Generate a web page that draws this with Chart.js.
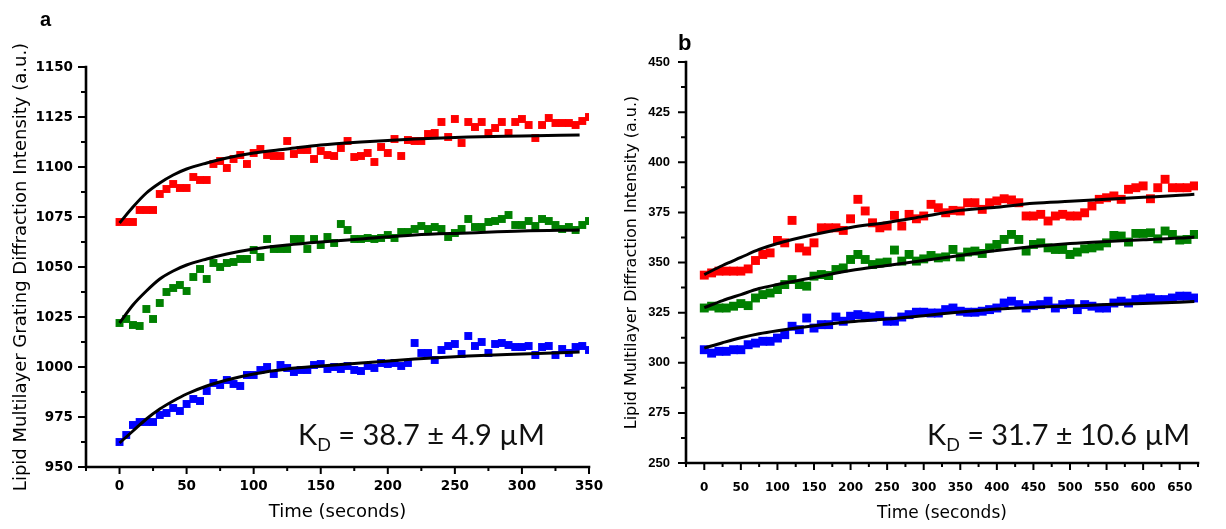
<!DOCTYPE html>
<html>
<head>
<meta charset="utf-8">
<script src="https://cdn.jsdelivr.net/npm/chart.js@4.4.0/dist/chart.umd.min.js"></script>
<style>
  html, body { margin: 0; padding: 0; background: #fff; }
  #wrap { position: relative; width: 1226px; height: 529px; overflow: hidden; }
  canvas { position: absolute; top: 0; }
  #chartA { left: 0; }
  #chartB { left: 600px; }
</style>
</head>
<body>
<div id="wrap">
  <canvas id="chartA" width="620" height="529"></canvas>
  <canvas id="chartB" width="626" height="529"></canvas>
</div>
<script>
// ---- panel a : grating, 0-350 s ----
const timeA = [0,5,10,15,20,25,30,35,40,45,50,55,60,65,70,75,80,85,90,95,
  100,105,110,115,120,125,130,135,140,145,150,155,160,165,170,175,180,185,190,195,
  200,205,210,215,220,225,230,235,240,245,250,255,260,265,270,275,280,285,290,295,
  300,305,310,315,320,325,330,335,340,345,350];
const redA = [1072.5,1072.5,1072.5,1078.5,1078.5,1078.5,1086.5,1089,1091.5,1089.5,
  1089.5,1095,1093.5,1093.5,1101.5,1103,1099.5,1104,1106,1101.5,
  1107,1109,1106,1105.5,1105.5,1113,1106.5,1108.5,1108.5,1104,
  1108,1106,1105.5,1109.5,1113,1105,1105.5,1107,1102.5,1110,
  1107,1114,1105.5,1113.5,1113,1113,1116.5,1117,1122.5,1115,
  1124,1112,1122.5,1120,1122.5,1117,1119.5,1122.5,1117,1122.5,
  1124,1121,1114.5,1121,1124.5,1122,1122,1122,1121,1123,
  1125];
const greenA = [1022,1024,1021,1020.5,1029,1024,1032,1037.5,1039.5,1041,
  1038,1045,1049,1044,1052,1050,1052,1052.5,1054,1054,
  1058.5,1055,1064,1059,1059,1059,1064,1064,1059,1064,
  1061,1065,1062,1071.5,1068.5,1064,1064,1064.5,1064,1064.5,
  1066,1064.5,1067.5,1067.5,1069,1070.5,1069,1070,1069,1065,
  1067,1069,1074,1070,1070,1072.5,1073,1074,1076,1071,
  1071,1073,1070.5,1074,1073,1071,1069,1070,1068.5,1071,
  1073];
const blueA = [962.5,966,971,972.5,972.5,972.5,976,977,979.5,978,
  981.5,984,983,988,992,991,993.5,991.5,990.5,996,
  996,998.5,1000,996.5,1001,999.5,997.5,998.5,998.5,1001,
  1001.5,999,1000,999,1000.5,998.5,998,1000.5,999.5,1002,
  1001.5,1002,1000.5,1002,1012,1007,1007,1003.5,1008.5,1010.5,
  1011.5,1006.5,1015.5,1010.5,1012.5,1007,1011.5,1012,1011,1010,
  1010,1010.5,1006,1010,1010.5,1006,1009,1007,1010,1010.5,
  1008.5];
const fitTimeA = [0,10,20,30,40,50,65,80,100,125,150,180,220,260,300,343];
const fitRedA = [1072,1080,1087,1092,1096,1099,1102,1104.5,1107,1109,1111,1112.5,1114,1115,1115.5,1116];
const fitGreenA = [1022,1031,1038,1044,1048,1051,1054,1056.5,1059,1061,1062.5,1064,1066,1067,1068,1068.5];
const fitBlueA = [962,968,974,979,983,986.5,990.5,993.5,996.5,999,1000.5,1002,1004,1005.5,1006.5,1007.5];
const xLabelsA = [0,50,100,150,200,250,300,350];
const yLabelsA = [950,975,1000,1025,1050,1075,1100,1125,1150];

// ---- panel b : multilayer, 0-670 s ----
const timeB = [0,10,20,30,40,50,60,70,80,90,100,110,120,130,140,150,160,170,180,190,
  200,210,220,230,240,250,260,270,280,290,300,310,320,330,340,350,360,370,380,390,
  400,410,420,430,440,450,460,470,480,490,500,510,520,530,540,550,560,570,580,590,
  600,610,620,630,640,650,660,670];
const redB = [343.7,344.8,345.7,345.7,345.7,345.7,346.8,351,354,354.8,
  361,359.8,371,357.3,355.7,359.8,367.3,367.3,367.3,366,
  371.8,381.5,375.7,369.8,367.3,368.2,373.5,368.2,374,371.8,
  373.2,379,377.3,374.8,376,375.7,379.8,379.8,376.5,379.8,
  380.7,381.8,381.2,379.8,373.2,373.2,374,370.7,373.2,374,
  373.2,373.2,374.8,378.2,381.5,382.3,383.2,381.5,386.5,387.3,
  388.2,381.8,387.3,391.5,387.3,387.3,387.3,388.2];
const greenB = [327.3,328.2,327.3,327.3,328.2,329.5,328.5,332.3,334,334.8,
  336.5,339,341.5,339,338.2,343.2,344,343.5,346.5,347.3,
  351.5,354,351.5,349,349.8,350.2,356.2,350.7,354,350.7,
  351.8,353.5,352.3,352.8,356.5,352.8,355.2,355.7,354.5,357.3,
  359,361.5,364,361.5,355.7,359,359.8,357.3,356.5,356.5,
  354,355.2,356.8,357.3,358.2,359.8,363.5,363.2,360.2,364.5,
  364.5,364.8,361.8,365.7,364,361.2,361.5,364];
const blueB = [306.5,304.8,305.7,305.7,306.5,306.5,309,309.8,310.7,310.7,
  312.3,314,318.2,316.5,322.3,317.3,319,319,322.8,320.7,
  323.2,324,323.2,322.8,323.5,320.7,320.7,322.8,324,325.2,
  325.2,324.8,324.8,326.5,327.3,325.7,325.2,325.2,325.7,326.5,
  327.3,329.8,330.7,329,327.3,328.5,329,330.7,327.3,329,
  329.5,326.5,329,328.2,327.3,327.3,329.8,330.7,329.8,331.5,
  331.8,332.3,331.5,331.5,332.3,333.2,333.2,332.3];
const fitTimeB = [0,25,50,75,100,150,200,250,300,350,400,450,500,550,600,650,670];
const fitRedB = [344,348.5,352.5,356.5,359.5,364,367.5,370,373,376,377.5,379.5,380.5,381.5,382.5,383.5,384];
const fitGreenB = [327.5,331,334,337,339,342.5,346,348.5,351,353.5,356,358,359.5,360.5,361.3,362.2,362.7];
const fitBlueB = [307.3,310,312.5,314.5,316,318.5,320.5,321.8,323.5,325.3,326.8,327.7,328.3,329,329.5,330.2,330.5];
const xLabelsB = [0,50,100,150,200,250,300,350,400,450,500,550,600,650];
const yLabelsB = [250,275,300,325,350,375,400,425,450];

function pts(xs, ys) {
  return xs.map((x, i) => ({ x: x, y: ys[i] }));
}

function dots(xs, ys, color, r) {
  return {
    data: pts(xs, ys), order: 1,
    pointStyle: 'rect', pointRadius: r, pointHoverRadius: r,
    backgroundColor: color, borderWidth: 0
  };
}

function fit(xs, ys) {
  return {
    type: 'line', data: pts(xs, ys), order: 0,
    borderColor: '#000', borderWidth: 3, pointRadius: 0,
    cubicInterpolationMode: 'monotone', fill: false
  };
}

// axis lines, major/minor tick marks, K_D note and panel letter
const marksPlugin = {
  id: 'marks',
  afterDraw(chart, args, o) {
    const ctx = chart.ctx;
    const a = chart.chartArea;
    const xs = chart.scales.x, ys = chart.scales.y;
    ctx.save();
    ctx.strokeStyle = '#000';
    ctx.lineWidth = 2.6;
    ctx.lineCap = 'square';
    ctx.beginPath();
    ctx.moveTo(a.left, a.top);
    ctx.lineTo(a.left, a.bottom);
    ctx.lineTo(a.right, a.bottom);
    ctx.stroke();

    ctx.lineWidth = 2;
    ctx.lineCap = 'butt';
    ctx.beginPath();
    xs.ticks.forEach(t => {
      const px = xs.getPixelForValue(t.value);
      const len = o.xMajor.includes(t.value) ? 7 : 4;
      ctx.moveTo(px, a.bottom);
      ctx.lineTo(px, a.bottom + len);
    });
    ys.ticks.forEach(t => {
      const py = ys.getPixelForValue(t.value);
      const len = o.yMajor.includes(t.value) ? 8 : 5;
      ctx.moveTo(a.left, py);
      ctx.lineTo(a.left - len, py);
    });
    ctx.stroke();

    // K_D text, stretched to the width it has in the figure
    const size = o.kd.size;
    const big = size + 'px Lato';
    const small = Math.round(size * 0.62) + 'px Lato';
    ctx.font = big;
    const wK = ctx.measureText('K').width;
    const wRest = ctx.measureText(o.kd.rest).width;
    ctx.font = small;
    const wD = ctx.measureText('D').width;
    const sx = o.kd.width / (wK + wD + wRest);
    ctx.fillStyle = '#111';
    ctx.textBaseline = 'alphabetic';
    ctx.textAlign = 'left';
    ctx.translate(o.kd.x, o.kd.y);
    ctx.scale(sx, 1);
    ctx.font = big;
    ctx.fillText('K', 0, 0);
    ctx.font = small;
    ctx.fillText('D', wK, size * 0.2);
    ctx.font = big;
    ctx.fillText(o.kd.rest, wK + wD, 0);
    ctx.restore();

    ctx.save();
    ctx.fillStyle = '#000';
    ctx.font = o.letter.font;
    ctx.textBaseline = 'alphabetic';
    ctx.fillText(o.letter.text, o.letter.x, o.letter.y);
    ctx.restore();
  }
};

function panel(id, c) {
  return new Chart(document.getElementById(id), {
    type: 'scatter',
    data: {
      datasets: [
        fit(c.fitT, c.fitR), fit(c.fitT, c.fitG), fit(c.fitT, c.fitB),
        dots(c.t, c.red, '#ff0000', c.r),
        dots(c.t, c.green, '#008000', c.r),
        dots(c.t, c.blue, '#0000ff', c.r)
      ]
    },
    options: {
      responsive: false,
      animation: false,
      events: [],
      layout: { padding: c.pad },
      plugins: {
        legend: { display: false },
        tooltip: { enabled: false },
        marks: { xMajor: c.xLabels, yMajor: c.yLabels, kd: c.kd, letter: c.letter }
      },
      scales: {
        x: {
          type: 'linear', min: c.xMin, max: c.xMax,
          grid: { display: false, drawTicks: false },
          border: { display: false },
          ticks: {
            stepSize: 25, autoSkip: false, maxRotation: 0, padding: c.xPad,
            color: '#000', font: c.xTickFont,
            callback: v => c.xLabels.includes(v) ? String(v) : ''
          },
          title: {
            display: true, text: 'Time (seconds)', color: '#000',
            font: c.xTitleFont, padding: { top: 0, bottom: c.xTitlePad }
          },
          afterFit: s => { s.height = c.xHeight; }
        },
        y: {
          type: 'linear', min: c.yMin, max: c.yMax,
          grid: { display: false, drawTicks: false },
          border: { display: false },
          ticks: {
            stepSize: 12.5, autoSkip: false, padding: c.yPad,
            color: '#000', font: c.yTickFont,
            callback: v => c.yLabels.includes(v) ? String(v) : ''
          },
          title: {
            display: true, text: c.yTitle, color: '#000',
            font: c.yTitleFont, padding: { top: c.yTitlePad, bottom: 0 }
          },
          afterFit: s => { s.width = 86; }
        }
      }
    },
    plugins: [marksPlugin]
  });
}

panel('chartA', {
  t: timeA, red: redA, green: greenA, blue: blueA,
  fitT: fitTimeA, fitR: fitRedA, fitG: fitGreenA, fitB: fitBlueA,
  xLabels: xLabelsA, yLabels: yLabelsA,
  xMin: -25, xMax: 350, yMin: 950, yMax: 1150, r: 5.6,
  pad: { left: 0, top: 67, right: 31, bottom: 0 },
  xHeight: 62, xPad: 11, yPad: 13,
  xTickFont: { family: 'DejaVu Sans', size: 13.5, weight: 'bold' },
  yTickFont: { family: 'DejaVu Sans', size: 13.5, weight: 'bold' },
  xTitleFont: { family: 'DejaVu Sans', size: 18 }, xTitlePad: 6,
  yTitle: 'Lipid Multilayer Grating Diffraction Intensity (a.u.)',
  yTitleFont: { family: 'DejaVu Sans', size: 18 }, yTitlePad: 11,
  kd: { x: 298, y: 445, width: 247, size: 29, rest: ' = 38.7 \u00b1 4.9 \u00b5M' },
  letter: { text: 'a', x: 40, y: 26, font: 'bold 20px "Liberation Sans"' }
});

panel('chartB', {
  t: timeB, red: redB, green: greenB, blue: blueB,
  fitT: fitTimeB, fitR: fitRedB, fitG: fitGreenB, fitB: fitBlueB,
  xLabels: xLabelsB, yLabels: yLabelsB,
  xMin: -25, xMax: 675, yMin: 250, yMax: 450, r: 6.3,
  pad: { left: 0, top: 62, right: 28, bottom: 0 },
  xHeight: 66, xPad: 18, yPad: 16,
  xTickFont: { family: 'DejaVu Sans', size: 12, weight: 'bold' },
  yTickFont: { family: 'Liberation Sans', size: 13, weight: 'bold' },
  xTitleFont: { family: 'DejaVu Sans', size: 17 }, xTitlePad: 5,
  yTitle: 'Lipid Multilayer Diffraction Intensity (a.u.)',
  yTitleFont: { family: 'DejaVu Sans', size: 16 }, yTitlePad: 22,
  kd: { x: 327, y: 445, width: 263, size: 29, rest: ' = 31.7 \u00b1 10.6 \u00b5M' },
  letter: { text: 'b', x: 78, y: 50, font: 'bold 22px "Liberation Sans"' }
});
</script>
</body>
</html>
